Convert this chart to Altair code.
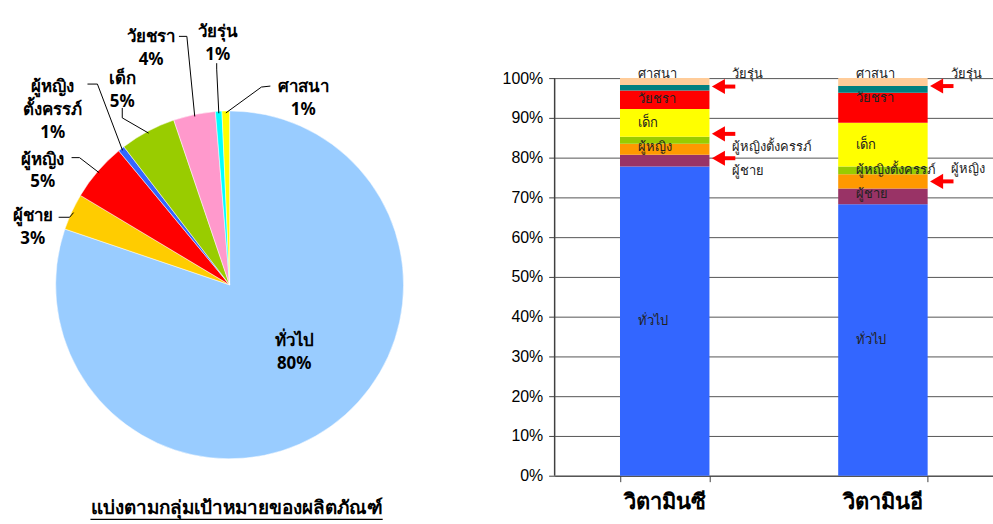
import altair as alt
import pandas as pd
import math

# ---------------- data ----------------
categories = ["ทั่วไป", "ผู้ชาย", "ผู้หญิง", "ผู้หญิงตั้งครรภ์", "เด็ก", "วัยชรา", "วัยรุ่น", "ศาสนา"]
pie_display = ["ทั่วไป", "ผู้ชาย", "ผู้หญิง", "ผู้หญิง\nตั้งครรภ์", "เด็ก", "วัยชรา", "วัยรุ่น", "ศาสนา"]
pie_values = [80.2, 3.4, 5.4, 0.6, 5.2, 3.9, 0.6, 0.7]
pie_colors = ["#99CCFF", "#FFCC00", "#FF0000", "#3366FF", "#99CC00", "#FF99CC", "#00FFFF", "#FFFF00"]
pie_title = "แบ่งตามกลุ่มเป้าหมายของผลิตภัณฑ์"

products = ["วิตามินซี", "วิตามินอี"]
vitc_values = [77.75, 3.0, 2.75, 1.75, 6.95, 4.7, 1.35, 1.75]
vite_values = [68.25, 4.0, 3.55, 1.95, 11.0, 7.55, 1.7, 2.0]
bar_colors = ["#3366FF", "#993366", "#FF9900", "#99CC00", "#FFFF00", "#FF0000", "#008080", "#FFCC99"]
y_ticks = [0, 0.1, 0.2, 0.3, 0.4, 0.5, 0.6, 0.7, 0.8, 0.9, 1.0]

# label side per product/segment ("in" inside bar, "out" right of bar) and small vertical shifts (pct points)
vitc_side = ["in", "out", "in", "out", "in", "in", "out", "in"]
vite_side = ["in", "in", "out", "in", "in", "in", "out", "in"]
vitc_shift = [0, -2.5, 0.5, -1.6, 0, 0.3, 3.4, 1.9]
vite_shift = [0, 0.5, 3.0, 0.2, 0, 2.5, 3.9, 2.0]
vitc_arrow_shift = [0, 0.6, 0, 1.6, 0, 0, 0.3, 0]
vite_arrow_shift = [0, 0, 0, 0, 0, 0, 0.85, 0]

# ---------------- layout (annotation positions, px) ----------------
FONT = "Noto Sans"
CX, CY, R = 231, 285, 175
pie_label_pos = [(296, 342), (33, 216), (43, 159), (53, 86), (123, 78), (152, 36), (219, 31), (305, 86)]
leader_anchor = [None, (59, 217), (72, 157), (88, 83), (123, 107), (180, 35), (218, 62), (272, 85)]
leader_elbow = [None, (70, 217), (80, 157), (98, 83), (123, 117), (188, 35), (218, 68), (263, 86)]

# ---------------- pie ----------------
pie_df = pd.DataFrame({"pcat": categories, "value": pie_values, "idx": list(range(len(categories)))})

total = sum(pie_values)
cum = 0.0
lab_rows, line_rows = [], []
for i, (disp, v) in enumerate(zip(pie_display, pie_values)):
    mid = (cum + v / 2) / total * 2 * math.pi
    cum += v
    lx, ly = pie_label_pos[i]
    lab_rows.append({"lx": lx, "ly": ly, "txt": f"{disp}\n{round(v / total * 100)}%"})
    if leader_anchor[i] is not None:
        ex, ey = CX + (R - 2) * math.sin(mid), CY - (R - 2) * math.cos(mid)
        for k, (px, py) in enumerate([leader_anchor[i], leader_elbow[i], (ex, ey)]):
            line_rows.append({"lid": i, "k": k, "px": px, "py": py})
lab_df = pd.DataFrame(lab_rows)
line_df = pd.DataFrame(line_rows)

arcs = alt.Chart(pie_df).mark_arc(outerRadius=R, stroke="white", strokeWidth=0.5).encode(
    theta=alt.Theta("value:Q", stack=True),
    color=alt.Color("pcat:N", scale=alt.Scale(domain=categories, range=pie_colors), legend=None),
    order=alt.Order("idx:Q"),
    x=alt.value(CX), y=alt.value(CY),
)
leaders = alt.Chart(line_df).mark_line(color="black", strokeWidth=1).encode(
    x=alt.X("px:Q", scale=None, axis=None),
    y=alt.Y("py:Q", scale=None, axis=None),
    detail="lid:N", order="k:Q",
)
pie_labels = alt.Chart(lab_df).mark_text(
    font=FONT, fontSize=17, fontWeight="bold", lineBreak="\n", lineHeight=23,
    align="center", baseline="middle", color="black",
).encode(x=alt.X("lx:Q", scale=None, axis=None), y=alt.Y("ly:Q", scale=None, axis=None), text="txt:N")

title_df = pd.DataFrame({"t": [pie_title]})
title_txt = alt.Chart(title_df).mark_text(
    font=FONT, fontSize=19, fontWeight="bold", align="center", baseline="middle", color="black"
).encode(x=alt.value(238), y=alt.value(510), text="t:N")
underline = alt.Chart(title_df).mark_rule(color="black", strokeWidth=1.3).encode(
    x=alt.value(91), x2=alt.value(385), y=alt.value(521)
)

left = alt.layer(arcs, leaders, pie_labels, title_txt, underline).properties(width=520, height=524)

# ---------------- stacked bars ----------------
rows, lab2, arr = [], [], []
for prod, vals, sides, shifts, ashifts in [
    (products[0], vitc_values, vitc_side, vitc_shift, vitc_arrow_shift),
    (products[1], vite_values, vite_side, vite_shift, vite_arrow_shift),
]:
    low = 0.0
    for i, (c, v) in enumerate(zip(categories, vals)):
        rows.append({"product": prod, "seg": c, "idx": i, "value": v / 100})
        mid = (low + v / 2) / 100
        lab2.append({"product": prod, "txt": c, "side": sides[i], "ly": mid + shifts[i] / 100})
        if sides[i] == "out":
            arr.append({"product": prod, "ay": mid + ashifts[i] / 100})
        low += v
bar_df = pd.DataFrame(rows)
lab2_df = pd.DataFrame(lab2)
arr_df = pd.DataFrame(arr)

YMAX = 1.1925
xenc = alt.X(
    "product:N", sort=products,
    scale=alt.Scale(domain=products, paddingInner=0.59, paddingOuter=0.2995),
    axis=alt.Axis(title=None, labelAngle=0, labelFont=FONT, labelFontSize=22, labelFontWeight="bold",
                  labelColor="black", labelPadding=10, domainColor="#404040", tickBand="extent",
                  tickColor="#404040", tickSize=6, grid=False),
)
yscale = alt.Scale(domain=[0, YMAX], nice=False, zero=True)

bars = alt.Chart(bar_df).mark_bar(stroke=None).encode(
    x=xenc,
    y=alt.Y("value:Q", stack="zero", scale=yscale,
            axis=alt.Axis(values=y_ticks, format=".0%", title=None, labelFont="Liberation Sans",
                          labelFontSize=16, labelColor="black", tickSize=6, tickColor="#404040",
                          domain=False, gridColor="#555555", gridWidth=1, labelPadding=6)),
    color=alt.Color("seg:N", scale=alt.Scale(domain=categories, range=bar_colors), legend=None),
    order=alt.Order("idx:Q", sort="ascending"),
)
yaxis_line = alt.Chart(title_df).mark_rule(color="#404040", strokeWidth=1.5).encode(
    x=alt.value(0), y=alt.datum(0, scale=yscale), y2=alt.datum(1)
)
in_labels = alt.Chart(lab2_df).transform_filter(alt.datum.side == "in").mark_text(
    font=FONT, fontSize=13, align="left", baseline="middle", dx=-27, color="#222222"
).encode(x=alt.X("product:N", sort=products), y=alt.Y("ly:Q", scale=yscale), text="txt:N")
out_labels = alt.Chart(lab2_df).transform_filter(alt.datum.side == "out").mark_text(
    font=FONT, fontSize=13, align="left", baseline="middle", dx=68, color="#222222"
).encode(x=alt.X("product:N", sort=products), y=alt.Y("ly:Q", scale=yscale), text="txt:N")
shafts = alt.Chart(arr_df).mark_tick(color="#FF0000", thickness=4, size=16, xOffset=63, opacity=1).encode(
    x=alt.X("product:N", sort=products), y=alt.Y("ay:Q", scale=yscale)
)
heads = alt.Chart(arr_df).mark_point(shape="triangle-left", filled=True, color="#FF0000", size=230,
                                     xOffset=54, opacity=1).encode(
    x=alt.X("product:N", sort=products), y=alt.Y("ay:Q", scale=yscale)
)

right = alt.layer(bars, yaxis_line, in_labels, out_labels, shafts, heads).properties(width=441, height=477)

chart = alt.hconcat(left, right, spacing=38, bounds="flush").resolve_scale(
    color="independent", x="independent", y="independent"
).properties(padding=0).configure_view(stroke=None)

chart.save("out.html", embed_options={"renderer": "svg", "actions": False})
